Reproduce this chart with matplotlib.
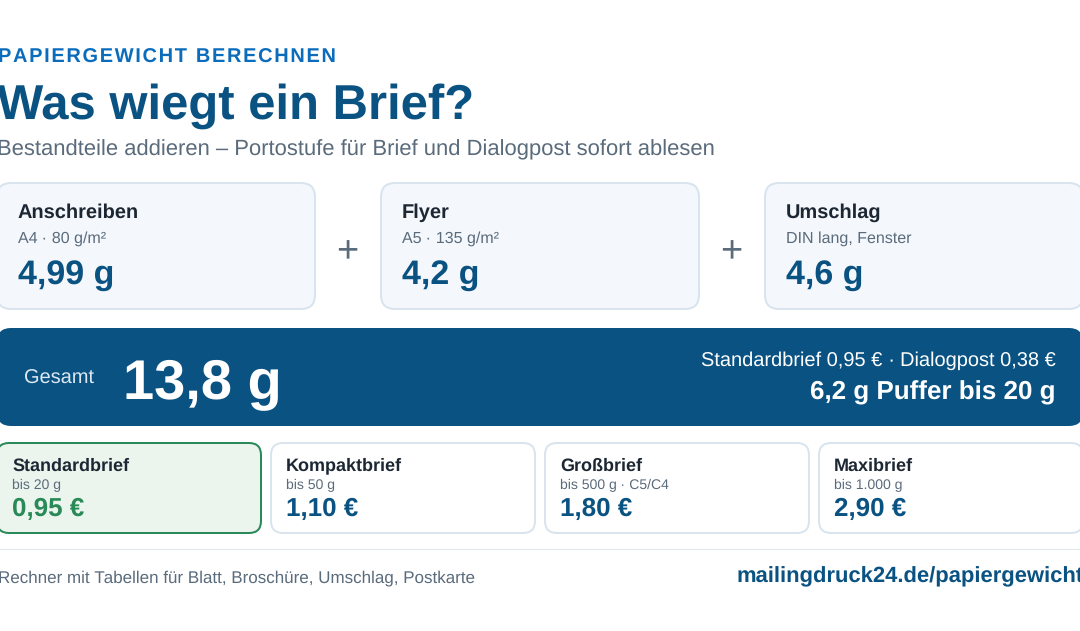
import matplotlib
matplotlib.use("Agg")
import matplotlib.pyplot as plt
from matplotlib.patches import FancyBboxPatch, Rectangle

plt.rcParams['font.family'] = ['Liberation Sans', 'DejaVu Sans']
plt.rcParams['text.hinting'] = 'no_hinting'
plt.rcParams['text.hinting_factor'] = 1

W, H = 1080, 631
BLUE = '#0a5282'
GREY = '#5a6b7c'
DARK = '#1c2733'
EDGE = '#d9e4ef'

part_names = ['Anschreiben', 'Flyer', 'Umschlag']
part_specs = ['A4 · 80 g/m²', 'A5 · 135 g/m²', 'DIN lang, Fenster']
part_values = ['4,99 g', '4,2 g', '4,6 g']

tier_names = ['Standardbrief', 'Kompaktbrief', 'Großbrief', 'Maxibrief']
tier_specs = ['bis 20 g', 'bis 50 g', 'bis 500 g · C5/C4', 'bis 1.000 g']
tier_prices = ['0,95 €', '1,10 €', '1,80 €', '2,90 €']
active_tier = 0

total_label = 'Gesamt'
total_value = '13,8 g'
total_info = 'Standardbrief 0,95 € · Dialogpost 0,38 €'
total_buffer = '6,2 g Puffer bis 20 g'


def px(size):
    # css pixel -> points at dpi 100
    return size * 0.72


def card(ax, x, y, w, h, r, fc, ec=None, lw=2):
    ax.add_patch(FancyBboxPatch((x + r, y + r), w - 2 * r, h - 2 * r,
                                boxstyle='round,pad=%g,rounding_size=%g' % (r, r),
                                fc=fc, ec=ec if ec else 'none',
                                lw=px(lw) if ec else 0))


def label(ax, x, y, s, size, color, bold=False, ha='left'):
    ax.text(x, y, s, fontsize=px(size), color=color, ha=ha, va='baseline',
            fontweight='bold' if bold else 'normal')


fig = plt.figure(figsize=(W / 100, H / 100), dpi=100, facecolor='white')
ax = fig.add_axes([0, 0, 1, 1])
ax.set_xlim(0, W)
ax.set_ylim(H, 0)
ax.axis('off')

# header (the reference is cropped a little at the left, so are these)
label(ax, -2, 63, '\u200a'.join('PAPIERGEWICHT BERECHNEN'), 20, '#0b6cbc', True)
label(ax, -3, 119, 'Was wiegt ein Brief?', 49, BLUE, True)
label(ax, -3, 155, 'Bestandteile addieren – Portostufe für Brief und Dialogpost sofort ablesen', 22, GREY)

# bestandteile
for i in range(len(part_names)):
    x = -3 + 384 * i
    card(ax, x, 183, 318, 126, 14, '#f4f7fb', EDGE)
    label(ax, x + 21, 218, part_names[i], 20, DARK, True)
    label(ax, x + 21, 243, part_specs[i], 16, GREY)
    label(ax, x + 21, 284, part_values[i], 34, BLUE, True)
    if i < len(part_names) - 1:
        label(ax, x + 350, 262, '+', 38, GREY, ha='center')

# gesamt
card(ax, -3, 328, 1086, 98, 14, BLUE)
label(ax, 24, 383.4, total_label, 20, '#dce8f2')
label(ax, 123, 398, total_value, 56, 'white', True)
label(ax, 1056, 366, total_info, 20, 'white', ha='right')
label(ax, 1056, 399, total_buffer, 26, 'white', True, ha='right')

# portostufen
for i in range(len(tier_names)):
    x = -3 + 274 * i
    active = i == active_tier
    card(ax, x, 443, 264, 90, 12, '#ebf5ee' if active else 'white',
         '#2a8a57' if active else EDGE)
    label(ax, x + 15, 470.7, tier_names[i], 18, DARK, True)
    label(ax, x + 15, 489, tier_specs[i], 14.4, GREY)
    label(ax, x + 15, 516, tier_prices[i], 26, '#2a8a57' if active else BLUE, True)

# footer
ax.add_patch(Rectangle((0, 549), W, 1, fc='#dfe6ed', ec='none'))
label(ax, -2, 582.6, 'Rechner mit Tabellen für Blatt, Broschüre, Umschlag, Postkarte', 16.8, GREY)
label(ax, 737, 582, 'mailingdruck24.de/papiergewicht', 22, BLUE, True)

fig.savefig('out.png', dpi=100)
